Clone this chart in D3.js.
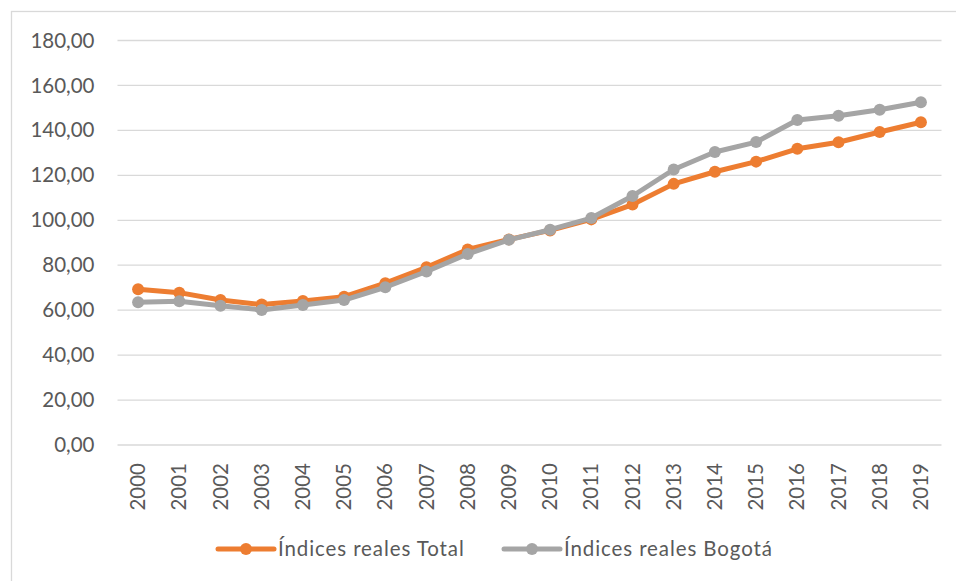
<!DOCTYPE html>
<html>
<head>
<meta charset="utf-8">
<script src="https://cdn.jsdelivr.net/npm/d3@7"></script>
<style>
  body { margin: 0; background: #fff; }
  text { font-family: Lato, "Open Sans", sans-serif; fill: #595959; }
</style>
</head>
<body>
<svg width="956" height="581"></svg>
<script>
const years = ['2000', '2001', '2002', '2003', '2004', '2005', '2006', '2007', '2008', '2009',
    '2010', '2011', '2012', '2013', '2014', '2015', '2016', '2017', '2018', '2019']
const total = [69.3, 67.8, 64.5, 62.5, 64.1, 66.0, 72.0, 79.1, 87.0, 91.5,
    95.5, 100.4, 107.0, 116.2, 121.6, 126.1, 131.8, 134.7, 139.3, 143.6]
const bogota = [63.5, 64.0, 62.0, 60.1, 62.3, 64.5, 70.2, 77.2, 85.0, 91.3,
    95.8, 101.0, 110.8, 122.6, 130.4, 134.8, 144.6, 146.5, 149.2, 152.5]
const yTicks = [0, 20, 40, 60, 80, 100, 120, 140, 160, 180]
const seriesNames = ['Índices reales Total', 'Índices reales Bogotá']
const seriesColors = ['#ed7d31', '#a5a5a5']

const svg = d3.select('svg'),
    margin = { left: 117.5, right: 14.5, top: 40.5, bottom: 136 },
    width = +svg.attr('width'),
    height = +svg.attr('height'),
    fontSize = 20.5,
    lineW = 5,
    dotR = 6

// chart frame
svg.append('rect')
    .attr('x', 11.5).attr('y', 11.5)
    .attr('width', 960).attr('height', 600)
    .style('fill', 'none')
    .style('stroke', '#d9d9d9')
    .style('stroke-width', 1.3)

const x = d3.scaleBand()
    .domain(years)
    .range([margin.left, width - margin.right])
const y = d3.scaleLinear()
    .domain([0, 180])
    .range([height - margin.bottom, margin.top])

// gridlines
svg.append('g')
    .selectAll('line')
    .data(yTicks)
    .enter().append('line')
    .attr('x1', margin.left)
    .attr('x2', width - margin.right)
    .attr('y1', (d) => y(d))
    .attr('y2', (d) => y(d))
    .style('stroke', '#d9d9d9')
    .style('stroke-width', 1.3)

const fmt = (d) => d3.format('.2f')(d).replace('.', ',')

// y axis labels
const yAxis = svg.append('g')
    .attr('transform', 'translate(' + (margin.left - 23) + ',0)')
    .call(d3.axisLeft(y).tickValues(yTicks).tickFormat(fmt).tickSize(0).tickPadding(0))
yAxis.select('.domain').remove()
yAxis.selectAll('text')
    .style('font-size', fontSize + 'px')
    .style('font-family', null)
    .attr('fill', null)

// x axis labels, rotated
const xAxis = svg.append('g')
    .attr('transform', 'translate(0,' + (height - margin.bottom) + ')')
    .call(d3.axisBottom(x).tickSize(0).tickPadding(0))
xAxis.select('.domain').remove()
xAxis.selectAll('text')
    .attr('transform', 'rotate(-90)')
    .attr('x', -18)
    .attr('y', 0)
    .attr('dy', '0.35em')
    .style('text-anchor', 'end')
    .style('font-size', fontSize + 'px')
    .style('font-family', null)
    .attr('fill', null)

const cx = (i) => x(years[i]) + x.bandwidth() / 2
const line = d3.line()
    .x((d, i) => cx(i))
    .y((d) => y(d))

;[total, bogota].forEach(function (values, k) {
    const g = svg.append('g')
    g.append('path')
        .attr('d', line(values))
        .style('fill', 'none')
        .style('stroke', seriesColors[k])
        .style('stroke-width', lineW)
        .style('stroke-linejoin', 'round')
    g.selectAll('circle')
        .data(values)
        .enter().append('circle')
        .attr('cx', (d, i) => cx(i))
        .attr('cy', (d) => y(d))
        .attr('r', dotR)
        .style('fill', seriesColors[k])
})

// legend
const legendY = 549,
    legendX = [218, 504]
seriesNames.forEach(function (name, k) {
    const g = svg.append('g').attr('transform', 'translate(' + legendX[k] + ',' + legendY + ')')
    g.append('line')
        .attr('x1', 0).attr('x2', 56)
        .style('stroke', seriesColors[k])
        .style('stroke-width', lineW)
        .style('stroke-linecap', 'round')
    g.append('circle')
        .attr('cx', 28).attr('r', dotR)
        .style('fill', seriesColors[k])
    g.append('text')
        .attr('x', 60)
        .attr('dy', '0.35em')
        .style('font-size', fontSize + 'px')
        .style('letter-spacing', '0.9px')
        .text(name)
})
</script>
</body>
</html>
